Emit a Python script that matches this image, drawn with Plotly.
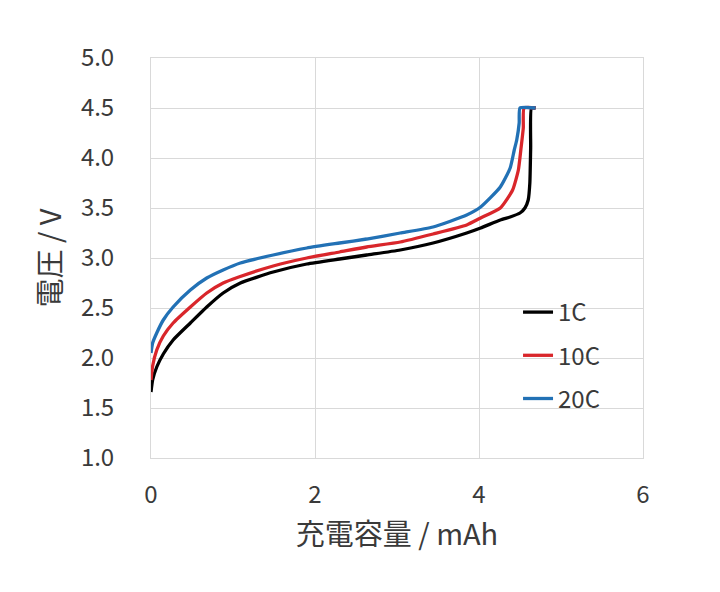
import plotly.graph_objects as go

# 充電曲線 (charge capacity vs voltage)
X_1C = [0, 0.02, 0.07, 0.15, 0.27, 0.48, 0.68, 0.88, 1.09, 1.49, 1.9, 2.3, 2.63,
        3.04, 3.44, 3.85, 4.02, 4.26, 4.38, 4.5, 4.56, 4.6, 4.62, 4.63, 4.64, 4.69]
V_1C = [1.66, 1.78, 1.91, 2.04, 2.18, 2.35, 2.51, 2.65, 2.75, 2.86, 2.94, 2.99, 3.03,
        3.08, 3.15, 3.25, 3.30, 3.38, 3.41, 3.45, 3.50, 3.58, 3.75, 4.1, 4.5, 4.5]

X_10C = [0, 0.02, 0.07, 0.15, 0.27, 0.48, 0.68, 0.88, 1.07, 1.49, 1.9, 2.3, 2.63,
         3.04, 3.44, 3.85, 4.02, 4.26, 4.41, 4.48, 4.51, 4.54, 4.55, 4.69]
V_10C = [1.78, 1.92, 2.08, 2.22, 2.35, 2.51, 2.65, 2.75, 2.81, 2.92, 3.0, 3.06, 3.11,
         3.16, 3.24, 3.33, 3.40, 3.50, 3.68, 3.88, 4.08, 4.3, 4.5, 4.5]

X_20C = [0, 0.02, 0.07, 0.15, 0.27, 0.48, 0.68, 0.88, 1.09, 1.49, 1.9, 2.3, 2.63,
         3.04, 3.44, 3.85, 4.02, 4.26, 4.38, 4.43, 4.46, 4.49, 4.5, 4.69]
V_20C = [2.05, 2.15, 2.25, 2.38, 2.51, 2.68, 2.80, 2.88, 2.95, 3.03, 3.10, 3.15, 3.19,
         3.25, 3.31, 3.43, 3.51, 3.71, 3.9, 4.08, 4.18, 4.35, 4.5, 4.5]

SERIES = [
    ("1C", X_1C, V_1C, "#000000"),
    ("10C", X_10C, V_10C, "#d9262b"),
    ("20C", X_20C, V_20C, "#2271b5"),
]

FONT = "Noto Sans CJK JP"
GRID = "#d9d9d9"
TEXT = "#3a3a3a"

fig = go.Figure()
for name, xs, vs, color in SERIES:
    fig.add_trace(go.Scatter(
        x=xs, y=vs, name=name, mode="lines", legendgroup=name,
        line=dict(color=color, width=3.3, shape="spline", smoothing=0.5),
    ))

# page body adds 8px, so margins are offset by that
fig.update_layout(
    width=720, height=592, autosize=False,
    margin=dict(l=143, r=85, t=50, b=142),
    paper_bgcolor="white", plot_bgcolor="white",
    font=dict(family=FONT, size=24, color=TEXT),
    legend=dict(
        x=0.746, y=0.42, xanchor="left", yanchor="top",
        bgcolor="rgba(0,0,0,0)", tracegroupgap=9,
        font=dict(family=FONT, size=24, color=TEXT),
    ),
)
fig.update_xaxes(
    range=[0, 6], dtick=2, tick0=0,
    showgrid=True, gridcolor=GRID, gridwidth=1,
    showline=True, linecolor=GRID, linewidth=1, mirror=True,
    zeroline=False, ticks="", ticklabelstandoff=15,
    title=dict(text="充電容量 / mAh", standoff=15),
)
fig.update_yaxes(
    range=[1.0, 5.0], dtick=0.5, tick0=1.0, tickformat=".1f",
    showgrid=True, gridcolor=GRID, gridwidth=1,
    showline=True, linecolor=GRID, linewidth=1, mirror=True,
    zeroline=False, ticks="", ticklabelstandoff=31,
    title=dict(text="電圧 / V", standoff=10),
)

fig.write_html("out.html")
